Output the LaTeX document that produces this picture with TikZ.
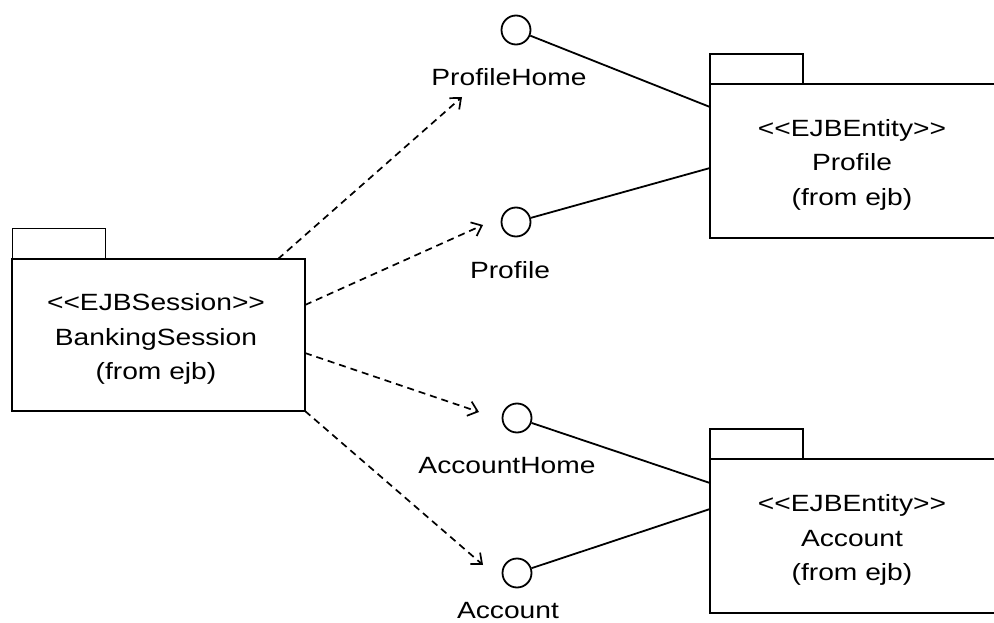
\documentclass[tikz,border=0pt]{standalone}
\usepackage{fontspec}
\setmainfont{Liberation Sans}[FakeStretch=1.2]
\usetikzlibrary{arrows.meta}
\newcommand{\stL}{<\kern0pt<}
\newcommand{\stR}{>\kern0pt>}
\begin{document}
\begin{tikzpicture}[x=1pt,y=-1pt,
  every node/.style={font=\fontsize{23.5}{34.5}\selectfont},
  body/.style={draw,line width=1.8pt,inner sep=0pt,rectangle},
  txt/.style={inner sep=0pt,align=center},
  tab/.style={draw,line width=1.8pt,inner sep=0pt,rectangle,minimum width=93pt,minimum height=30pt},
  iface/.style={draw,line width=1.8pt,circle,inner sep=0pt,minimum size=29pt},
  lbl/.style={anchor=base,inner sep=0pt},
  dep/.style={line width=1.7pt,dash pattern=on 7pt off 5pt,-{Straight Barb[length=9pt,width=15pt,line width=1.7pt]}},
  real/.style={line width=1.8pt}]
\useasboundingbox (0,0) rectangle (994,623);
% packages
\node[body,minimum width=293pt,minimum height=152pt] (sess) at (158.5,335) {};
\node[txt] (sesstxt) at (156,339) {\stL EJBSession\stR\\BankingSession\\(from ejb)};
\node[tab] (sesstab) at (59,243.5) {};
\node[body,minimum width=286pt,minimum height=154pt] (prof) at (853,161) {};
\node[txt] (proftxt) at (852,164.5) {\stL EJBEntity\stR\\Profile\\(from ejb)};
\node[tab] (proftab) at (756.5,69) {};
\node[body,minimum width=286pt,minimum height=154pt] (acct) at (853,536) {};
\node[txt] (accttxt) at (852,540) {\stL EJBEntity\stR\\Account\\(from ejb)};
\node[tab] (accttab) at (756.5,444) {};
% interfaces
\node[iface] (phc) at (516,30) {};
\node[iface] (pc) at (516,222) {};
\node[iface] (ahc) at (517,418) {};
\node[iface] (ac) at (517,573) {};
\node[lbl] (phl) at (509,86) {ProfileHome};
\node[lbl] (pl) at (510,278) {Profile};
\node[lbl] (ahl) at (507,473) {AccountHome};
\node[lbl] (al) at (508,618) {Account};
% connector end points
\coordinate (s1) at (278,259);
\coordinate (s2) at (305,305);
\coordinate (s3) at (305,353);
\coordinate (s4) at (305,411);
\coordinate (t1) at (462,97);
\coordinate (t2) at (483,225);
\coordinate (t3) at (479,412);
\coordinate (t4) at (483,565);
\coordinate (e1) at (710,107);
\coordinate (e2) at (710,168);
\coordinate (e3) at (710,483);
\coordinate (e4) at (710,509);
% dependencies
\draw[dep] (s1) -- (t1);
\draw[dep] (s2) -- (t2);
\draw[dep] (s3) -- (t3);
\draw[dep] (s4) -- (t4);
% realizations
\draw[real] (phc) -- (e1);
\draw[real] (pc) -- (e2);
\draw[real] (ahc) -- (e3);
\draw[real] (ac) -- (e4);
\end{tikzpicture}
\end{document}
